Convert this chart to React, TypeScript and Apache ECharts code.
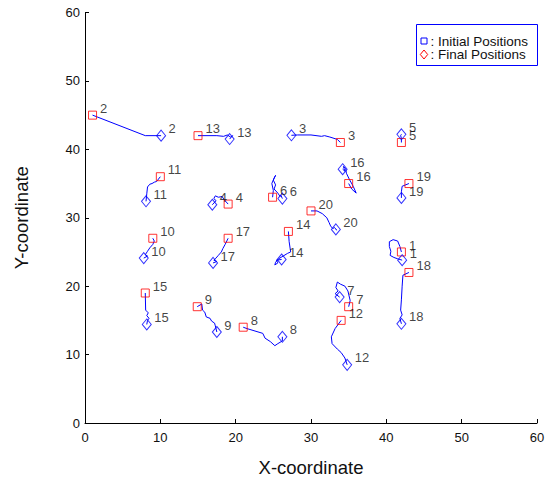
import React, { useEffect, useRef } from "react";
import * as echarts from "echarts";

const nodeIds = [1, 2, 3, 4, 5, 6, 7, 8, 9, 10, 11, 12, 13, 14, 15, 16, 17, 18, 19, 20];

// initial positions (red squares)
const initialX = [42.0, 1.0, 33.9, 19.0, 42.0, 24.9, 35.0, 21.0, 14.9, 9.0, 10.0, 34.0, 15.0, 27.0, 8.0, 35.0, 19.0, 43.0, 43.0, 30.0];
const initialY = [25.0, 45.0, 41.0, 32.0, 41.0, 33.0, 17.0, 14.0, 17.0, 27.0, 36.0, 15.0, 42.0, 28.0, 19.0, 35.0, 27.0, 22.0, 35.0, 31.0];

// final positions (blue diamonds)
const finalX = [42.1, 10.1, 27.4, 16.9, 42.0, 26.2, 33.8, 26.2, 17.5, 7.8, 8.1, 34.8, 19.2, 26.1, 8.2, 34.2, 17.0, 42.0, 42.0, 33.3];
const finalY = [23.8, 42.0, 42.05, 31.9, 42.2, 32.8, 18.4, 12.6, 13.3, 24.1, 32.4, 8.5, 41.5, 23.9, 14.4, 37.1, 23.4, 14.5, 32.9, 28.3];

// intermediate trajectory points (x, y) per node
const path1 = [[41.8, 25.8], [41.5, 26.6], [40.9, 26.8], [40.4, 26.5], [40.4, 25.8], [40.6, 25.1], [40.5, 24.5], [41.0, 24.2], [41.5, 24.0]];
const path2 = [[8.0, 42.0]];
const path3 = [[33.5, 41.45], [32.5, 41.8], [31.8, 42.0], [31.4, 41.9], [30.0, 42.1], [28.2, 42.1]];
const path4 = [[18.5, 32.6], [18.2, 33.1], [17.7, 33.0], [17.3, 33.2], [17.1, 32.8], [17.4, 32.5]];
const path5 = [[42.0, 41.6], [41.9, 42.0]];
const path6 = [[25.0, 34.0], [24.8, 35.0], [25.1, 35.8], [25.3, 36.2], [25.0, 35.5], [25.3, 34.8], [25.1, 34.2], [25.6, 33.6], [25.9, 33.1], [26.0, 33.3]];
const path7 = [[35.2, 17.9], [34.9, 19.3], [34.5, 20.0], [33.9, 20.3], [33.5, 20.6], [33.3, 19.8], [33.6, 19.3], [33.2, 18.9]];
const path8 = [[21.5, 13.8], [23.6, 13.1], [23.9, 12.4], [24.6, 11.9], [25.2, 11.3], [25.6, 11.6], [26.2, 12.0]];
const path9 = [[15.5, 17.4], [15.6, 16.5], [15.9, 16.2], [16.1, 15.5], [16.6, 15.3], [16.8, 14.9], [17.2, 14.6], [17.3, 14.2]];
const path10 = [[9.2, 26.6], [9.0, 26.1], [8.6, 25.6], [8.3, 25.1], [8.0, 24.6], [8.3, 24.4]];
const path11 = [[9.5, 35.3], [9.2, 35.2], [8.9, 35.0], [8.6, 34.9], [8.3, 34.5], [8.2, 33.5]];
const path12 = [[33.2, 13.8], [32.7, 12.6], [32.8, 11.6], [33.5, 10.8], [34.0, 10.3], [34.5, 9.5]];
const path13 = [[17.5, 42.0], [18.4, 41.9], [18.9, 42.1], [19.3, 41.8], [19.6, 42.0]];
const path14 = [[27.1, 26.5], [27.3, 25.0], [26.9, 24.8], [26.3, 24.4], [25.7, 24.0], [25.3, 23.5], [25.2, 23.1], [25.6, 23.4], [25.4, 23.8]];
const path15 = [[8.05, 16.5], [8.4, 16.1], [8.2, 15.7], [8.5, 15.3], [8.3, 15.0]];
const path16 = [[35.4, 34.2], [36.0, 33.6], [35.6, 34.6], [35.1, 35.6], [34.7, 36.5], [34.6, 37.2], [34.3, 37.5], [34.5, 36.8]];
const path17 = [[18.6, 26.1], [18.3, 25.5], [18.1, 25.0], [17.7, 24.5], [17.3, 24.0], [17.1, 23.8], [17.5, 23.6]];
const path18 = [[42.2, 21.6], [42.1, 20.0], [42.0, 18.0], [41.9, 16.5], [42.1, 15.8], [41.8, 15.3]];
const path19 = [[42.1, 34.6], [42.0, 33.8]];
const path20 = [[30.8, 31.0], [31.5, 30.6], [32.1, 30.0], [32.4, 29.3], [32.6, 28.8], [32.9, 28.4], [33.1, 28.6], [33.4, 28.2]];

const paths = [path1, path2, path3, path4, path5, path6, path7, path8, path9, path10,
  path11, path12, path13, path14, path15, path16, path17, path18, path19, path20];

const FONT = "'Liberation Sans', Arial, Helvetica, sans-serif";
const BLUE = "#0000ff";
const RED = "#ff0000";
const TXT = "#111111";

export default function App() {
  const ref = useRef<HTMLDivElement>(null);

  useEffect(() => {
    document.body.style.margin = "0";
    if (!ref.current) return;
    const chart = echarts.init(ref.current, undefined, { renderer: "svg" });

    const labelStyle = {
      show: true,
      position: "inside",
      align: "left",
      verticalAlign: "middle",
      offset: [7.5, -6.9],
      color: TXT,
      fontSize: 13,
      fontFamily: FONT,
      formatter: (p: any) => p.name,
    };

    const trajSeries = nodeIds.map((id, i) => ({
      type: "line",
      name: "Trajectory " + id,
      data: [[initialX[i], initialY[i]], ...paths[i], [finalX[i], finalY[i]]],
      symbol: "none",
      showSymbol: false,
      lineStyle: { color: BLUE, width: 1 },
      silent: true,
      z: 2,
    }));

    const axisCommon = {
      type: "value",
      min: 0,
      max: 60,
      interval: 10,
      axisLine: { show: true, onZero: false, lineStyle: { color: "#000", width: 1 } },
      axisTick: { show: true, inside: true, length: 4, lineStyle: { color: "#000" } },
      splitLine: { show: false },
      axisLabel: { color: TXT, fontSize: 13, fontFamily: FONT },
      nameLocation: "middle",
      nameTextStyle: { color: TXT, fontSize: 18.5, fontFamily: FONT },
    };

    chart.setOption({
      animation: false,
      backgroundColor: "#ffffff",
      grid: { left: 85, right: 17, top: 12.5, bottom: 55, containLabel: false },
      xAxis: {
        ...axisCommon,
        name: "X-coordinate",
        nameGap: 35,
        axisLabel: { ...axisCommon.axisLabel, margin: 8 },
      },
      yAxis: {
        ...axisCommon,
        name: "Y-coordinate",
        nameGap: 54,
        axisLabel: { ...axisCommon.axisLabel, margin: 5 },
      },
      series: [
        ...trajSeries,
        {
          type: "scatter",
          name: "Initial Positions",
          data: nodeIds.map((id, i) => ({ name: String(id), value: [initialX[i], initialY[i]] })),
          symbol: "rect",
          symbolSize: 8,
          itemStyle: { color: "rgba(0,0,0,0)", borderColor: RED, borderWidth: 1 },
          label: labelStyle,
          z: 3,
        },
        {
          type: "scatter",
          name: "Final Positions",
          data: nodeIds.map((id, i) => ({ name: String(id), value: [finalX[i], finalY[i]] })),
          symbol: "diamond",
          symbolSize: [9, 11],
          itemStyle: { color: "rgba(0,0,0,0)", borderColor: BLUE, borderWidth: 1 },
          label: labelStyle,
          z: 3,
        },
      ],
      graphic: [
        {
          type: "group",
          left: 416,
          top: 24,
          children: [
            {
              type: "rect",
              shape: { x: 0, y: 0, width: 121, height: 41 },
              style: { fill: "#fff", stroke: BLUE, lineWidth: 1 },
            },
            {
              type: "rect",
              shape: { x: 4.5, y: 13.5, width: 6, height: 6 },
              style: { fill: "none", stroke: BLUE, lineWidth: 1 },
            },
            {
              type: "polygon",
              shape: { points: [[7.5, 25.5], [11.2, 30], [7.5, 34.5], [3.8, 30]] },
              style: { fill: "none", stroke: RED, lineWidth: 1 },
            },
            {
              type: "text",
              x: 14,
              y: 16.5,
              style: { text: ": Initial Positions", fill: TXT, fontSize: 13.5, fontFamily: FONT, verticalAlign: "middle" },
            },
            {
              type: "text",
              x: 14,
              y: 30,
              style: { text: ": Final Positions", fill: TXT, fontSize: 13.5, fontFamily: FONT, verticalAlign: "middle" },
            },
          ],
        },
      ],
    });

    return () => chart.dispose();
  }, []);

  return <div ref={ref} style={{ width: 554, height: 482 }} />;
}
